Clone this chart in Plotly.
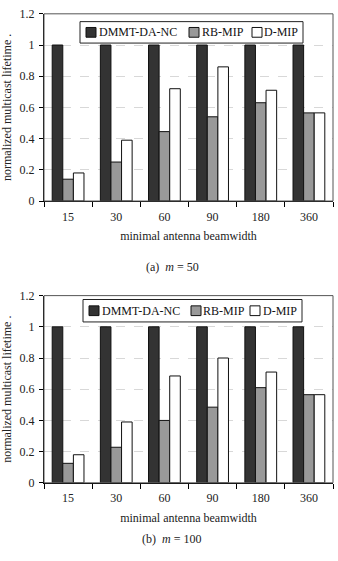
import plotly.graph_objects as go

categories = ["15", "30", "60", "90", "180", "360"]
series_names = ["DMMT-DA-NC", "RB-MIP", "D-MIP"]

# (a) m = 50
a_dmmt = [1, 1, 1, 1, 1, 1]
a_rbmip = [0.14, 0.25, 0.445, 0.54, 0.63, 0.565]
a_dmip = [0.18, 0.39, 0.72, 0.86, 0.71, 0.565]

# (b) m = 100
b_dmmt = [1, 1, 1, 1, 1, 1]
b_rbmip = [0.125, 0.228, 0.40, 0.485, 0.61, 0.565]
b_dmip = [0.18, 0.39, 0.685, 0.80, 0.71, 0.565]

y_ticks = [0, 0.2, 0.4, 0.6, 0.8, 1, 1.2]
y_tick_text = ["0", "0.2", "0.4", "0.6", "0.8", "1", "1.2"]

colors = ["#333333", "#999999", "#ffffff"]
FONT = "Liberation Serif, Times New Roman, serif"
W, H = 338, 561

fig = go.Figure()

panels = [
    ("x", "y", [a_dmmt, a_rbmip, a_dmip]),
    ("x2", "y2", [b_dmmt, b_rbmip, b_dmip]),
]
for pi, (xa, ya, data) in enumerate(panels):
    for name, vals, col in zip(series_names, data, colors):
        fig.add_trace(go.Bar(
            x=categories, y=vals, name=name, xaxis=xa, yaxis=ya,
            legendgroup=name, showlegend=False,
            marker=dict(color=col, line=dict(color="#111111", width=1)),
        ))


def px_y(top, bottom):
    return [1 - bottom / H, 1 - top / H]


xdom = [44 / W, 333 / W]
ydom_a = px_y(7, 199)
ydom_b = px_y(296, 488)

axis_common_x = dict(
    type="category", tickson="boundaries", ticks="outside", ticklen=5,
    tickcolor="#000", showline=True, linecolor="#000", linewidth=1.3,
    tickfont=dict(family=FONT, size=12, color="#222"), ticklabelstandoff=4,
    showgrid=False, zeroline=False,
    title=dict(text="minimal antenna beamwidth",
               font=dict(family=FONT, size=12, color="#222"), standoff=9),
)
axis_common_y = dict(
    range=[0, 1.2], tickvals=y_ticks, ticktext=y_tick_text,
    ticks="outside", ticklen=4, tickcolor="#000",
    showline=True, linecolor="#000", linewidth=1.3,
    showgrid=True, gridcolor="#d8d8d8", griddash="dash", gridwidth=1,
    zeroline=False, ticklabelstandoff=2,
    tickfont=dict(family=FONT, size=12, color="#222"),
    title=dict(text="normalized multicast lifetime .",
               font=dict(family=FONT, size=12, color="#222"), standoff=9),
)

fig.update_layout(
    width=W, height=H, margin=dict(l=0, r=0, t=0, b=0),
    paper_bgcolor="#fff", plot_bgcolor="#fff",
    barmode="group", bargap=0.34, bargroupgap=0,
    xaxis=dict(domain=xdom, anchor="y", **axis_common_x),
    yaxis=dict(domain=ydom_a, anchor="x", **axis_common_y),
    xaxis2=dict(domain=xdom, anchor="y2", **axis_common_x),
    yaxis2=dict(domain=ydom_b, anchor="x2", **axis_common_y),
    showlegend=False,
)

# frame around each plot area
for xr, yr in [("x domain", "y domain"), ("x2 domain", "y2 domain")]:
    fig.add_shape(type="rect", xref=xr, yref=yr, x0=0, x1=1, y0=0, y1=1,
                  line=dict(color="#555", width=1), layer="above")

# legends (drawn as boxes with swatches + text), positions in pixels
legend_specs = [
    # box (x0, x1, y0, y1), centre y, swatch x-starts, text x-starts
    ((80, 303, 15, 37), 26, [86, 189, 252], [97, 200, 262]),
    ((83, 302, 300, 323), 311.5, [89, 191, 250], [100, 201, 261]),
]
SW = 10
for (bx0, bx1, by0, by1), cy, sx, tx in legend_specs:
    fig.add_shape(type="rect", xref="paper", yref="paper",
                  x0=bx0 / W, x1=bx1 / W, y0=1 - by1 / H, y1=1 - by0 / H,
                  line=dict(color="#222", width=1), fillcolor="#fff",
                  layer="above")
    for name, col, s, t in zip(series_names, colors, sx, tx):
        fig.add_shape(type="rect", xref="paper", yref="paper",
                      x0=s / W, x1=(s + SW) / W,
                      y0=1 - (cy + SW / 2) / H, y1=1 - (cy - SW / 2) / H,
                      line=dict(color="#111", width=1), fillcolor=col,
                      layer="above")
        fig.add_annotation(text=name, x=t / W, y=1 - cy / H,
                           xref="paper", yref="paper", showarrow=False,
                           xanchor="left", yanchor="middle",
                           font=dict(family=FONT, size=12, color="#111"))

fig.add_annotation(text="(a)  <i>m</i> = 50", x=172 / W, y=1 - 267 / H,
                   xref="paper", yref="paper", showarrow=False,
                   font=dict(family=FONT, size=12, color="#222"))
fig.add_annotation(text="(b)  <i>m</i> = 100", x=171 / W, y=1 - 555 / H,
                   xref="paper", yref="paper", showarrow=False,
                   font=dict(family=FONT, size=12, color="#222"))

fig.write_html("out.html")
